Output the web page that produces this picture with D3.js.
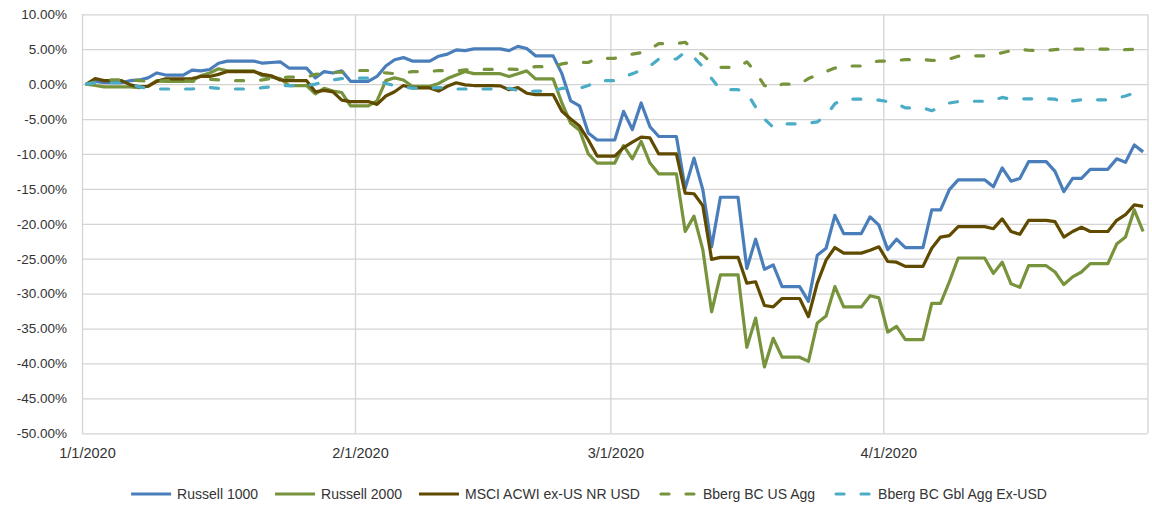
<!DOCTYPE html>
<html><head><meta charset="utf-8">
<script src="https://cdn.jsdelivr.net/npm/d3@7"></script>
<style>
body{margin:0;background:#fff}
text{font-family:"Liberation Sans",Arial,sans-serif;fill:#333}
</style>
</head><body>
<svg id="c" width="1152" height="507"></svg>
<script>
// ---------- DATA ----------
const startDate = "2020-01-01";
const endDate = "2020-05-01";
const xTickDates = ["2020-01-01","2020-02-01","2020-03-01","2020-04-01","2020-05-01"];
const xTickLabels = ["1/1/2020","2/1/2020","3/1/2020","4/1/2020",""];
const yTicks = [10,5,0,-5,-10,-15,-20,-25,-30,-35,-40,-45,-50];
const seriesNames = ["Russell 1000","Russell 2000","MSCI ACWI ex-US NR USD","Bberg BC US Agg","Bberg BC Gbl Agg Ex-USD"];

// daily cumulative returns (%) from 1/1/2020 to 4/30/2020
const russell1000 = [0,0.4,0.2,0.2,0.2,0.5,0.6,0.9,1.6,1.3,1.3,1.3,2.0,1.9,2.1,3.0,3.3,3.3,3.3,3.3,3.0,3.1,3.2,2.3,2.3,2.3,0.9,1.8,1.6,1.9,
  0.4,0.4,0.4,1.1,2.6,3.5,3.8,3.3,3.3,3.3,4.0,4.3,4.9,4.8,5.05,5.05,5.05,5.05,4.8,5.4,5.1,4.05,4.05,4.05,1.5,-2.4,-3.1,-7.0,-8.0,-8.0,
  -8.0,-3.9,-6.5,-2.7,-6.1,-7.5,-7.5,-7.5,-14.9,-10.6,-15.1,-23.3,-16.2,-16.2,-16.2,-26.4,-22.2,-26.5,-25.9,-29.0,-29.0,-29.0,-31.1,-24.5,-23.5,-18.8,-21.4,-21.4,-21.4,-19.0,
  -20.2,-23.7,-22.2,-23.4,-23.4,-23.4,-18.0,-18.0,-15.1,-13.7,-13.7,-13.7,-13.7,-14.7,-12.0,-13.9,-13.5,-11.1,-11.1,-11.1,-12.5,-15.4,-13.5,-13.5,-12.2,-12.2,-12.2,-10.7,-11.2,-8.7,
  -9.7];
const russell2000 = [0,-0.2,-0.4,-0.4,-0.4,-0.4,-0.5,-0.3,0.5,0.4,0.4,0.4,0.5,1.2,1.6,2.2,1.9,1.9,1.9,1.9,1.2,1.0,0.8,-0.2,-0.2,-0.2,-1.4,-0.6,-1.0,-1.2,
  -3.1,-3.1,-3.1,-2.4,0.5,0.9,0.6,-0.3,-0.3,-0.3,0.1,0.8,1.3,1.8,1.5,1.5,1.5,1.5,1.1,1.5,1.9,0.75,0.75,0.75,-2.7,-5.6,-6.6,-10.0,-11.3,-11.3,
  -11.3,-8.8,-10.7,-8.2,-11.3,-12.85,-12.85,-12.85,-21.1,-18.9,-23.7,-32.6,-27.3,-27.3,-27.3,-37.7,-33.5,-40.5,-36.4,-39.1,-39.1,-39.1,-39.7,-34.2,-33.2,-29.0,-31.9,-31.9,-31.9,-30.3,
  -30.6,-35.5,-34.7,-36.6,-36.6,-36.6,-31.4,-31.4,-28.3,-24.9,-24.9,-24.9,-24.9,-27.1,-25.5,-28.6,-29.1,-26.0,-26.0,-26.0,-26.9,-28.7,-27.6,-26.9,-25.7,-25.7,-25.7,-22.9,-21.9,-18.0,
  -21.1];
const msciAcwiExUs = [0,0.8,0.5,0.5,0.5,-0.1,-0.4,-0.3,0.4,0.75,0.75,0.75,0.8,1.1,1.1,1.4,1.8,1.8,1.8,1.8,1.4,1.2,0.6,0.5,0.5,0.5,-1.1,-0.9,-1.1,-2.3,
  -2.5,-2.5,-2.5,-2.9,-1.7,-1.1,-0.2,-0.55,-0.55,-0.55,-1.0,-0.3,0.2,-0.1,-0.2,-0.2,-0.2,-0.25,-0.8,-0.5,-1.3,-1.5,-1.5,-1.5,-3.9,-5.0,-6.0,-8.0,-10.3,-10.3,
  -10.3,-9.1,-8.3,-7.6,-7.7,-10.0,-10.0,-10.0,-15.6,-15.7,-17.4,-25.1,-24.8,-24.8,-24.8,-28.5,-28.3,-31.7,-31.9,-30.7,-30.7,-30.7,-33.3,-28.5,-25.2,-23.4,-24.2,-24.2,-24.2,-23.8,
  -23.3,-25.4,-25.5,-26.1,-26.1,-26.1,-23.5,-21.9,-21.7,-20.4,-20.4,-20.4,-20.4,-20.7,-19.3,-21.1,-21.5,-19.5,-19.5,-19.5,-19.7,-21.9,-21.1,-20.5,-21.1,-21.1,-21.1,-19.5,-18.7,-17.3,
  -17.5];
const usAgg = [0,0.3,0.6,0.6,0.6,0.6,0.5,0.4,0.4,0.5,0.5,0.5,0.4,0.6,0.7,0.6,0.5,0.5,0.5,0.5,0.6,0.8,0.9,1.0,1.0,1.0,1.4,1.5,1.7,1.7,
  1.95,1.95,1.95,1.8,1.6,1.5,1.6,1.8,1.8,1.8,1.95,1.9,1.9,2.05,2.1,2.1,2.1,2.1,2.15,2.1,2.3,2.5,2.5,2.5,2.9,3.1,3.15,3.1,3.7,3.7,
  3.7,4.0,4.3,4.5,5.0,5.8,5.8,5.8,6.0,4.9,4.2,3.0,2.4,2.4,2.4,3.2,1.7,-0.2,-0.6,0.0,0.0,0.0,0.8,1.3,1.8,2.3,2.6,2.6,2.6,3.1,
  3.3,3.3,3.4,3.5,3.5,3.5,3.4,3.4,3.6,4.0,4.05,4.05,4.05,4.2,4.5,4.8,5.0,4.85,4.8,4.8,4.95,5.0,5.0,5.0,5.0,5.0,5.0,4.7,4.95,5.0,
  5.0];
const gblAggExUsd = [0,0.2,0.2,0.2,0.2,0.0,-0.4,-0.6,-0.7,-0.7,-0.7,-0.7,-0.7,-0.5,-0.5,-0.6,-0.7,-0.7,-0.7,-0.7,-0.5,-0.4,-0.2,-0.2,-0.2,-0.2,0.0,0.3,0.6,0.8,
  0.85,0.85,0.85,0.6,0.1,-0.2,-0.4,-0.57,-0.57,-0.57,-0.5,-0.5,-0.7,-0.7,-0.7,-0.7,-0.7,-0.7,-0.6,-0.9,-1.1,-1.0,-1.0,-1.0,-0.6,-0.5,-0.6,-0.2,0.5,0.5,
  0.5,1.0,1.5,2.0,2.6,3.6,3.6,3.6,4.6,3.8,2.5,0.8,-0.8,-0.8,-0.8,-1.2,-3.3,-5.0,-6.2,-5.7,-5.7,-5.7,-5.6,-5.4,-4.5,-2.8,-2.15,-2.15,-2.15,-2.2,
  -2.3,-2.5,-2.8,-3.4,-3.4,-3.4,-3.8,-3.3,-2.7,-2.5,-2.45,-2.45,-2.45,-2.3,-1.9,-2.15,-2.1,-2.1,-2.1,-2.1,-2.15,-2.7,-2.4,-2.25,-2.25,-2.25,-2.25,-2.0,-1.7,-1.3,
  -1.0];

const seriesValues = [russell1000, russell2000, msciAcwiExUs, usAgg, gblAggExUsd];
const seriesColors = ["#4A7EBB","#77933C","#604A00","#77933C","#4BACC6"];
const seriesDashed = [false,false,false,true,true];

// ---------- CHART ----------
const svg = d3.select("#c");
const L = 82, R = 1147.5, T = 14.3, B = 433.3;
const parse = d3.utcParse("%Y-%m-%d");
const t0 = parse(startDate);
const x = d3.scaleUtc().domain([t0, parse(endDate)]).range([L, R]);
const y = d3.scaleLinear().domain([-50, 10]).range([B, T]);
const dates = russell1000.map((_, i) => d3.utcHour.offset(d3.utcDay.offset(t0, i), 12));

// y axis + horizontal gridlines
const gy = svg.append("g").attr("transform", `translate(${L},0)`)
  .call(d3.axisLeft(y).tickValues(yTicks).tickSize(-(R - L)).tickPadding(15)
    .tickFormat(d => d.toFixed(2) + "%"));
gy.select(".domain").remove();
gy.selectAll(".tick line").attr("stroke", "#d4d4d4").attr("stroke-width", 1.3);
gy.selectAll(".tick text").attr("font-size", "13.5px").style("fill", "#333");

// x axis + vertical gridlines
const xt = xTickDates.map(parse);
const gx = svg.append("g").attr("transform", `translate(0,${B})`)
  .call(d3.axisBottom(x).tickValues(xt).tickSize(-(B - T)).tickPadding(14)
    .tickFormat((d, i) => xTickLabels[i]));
gx.select(".domain").remove();
gx.selectAll(".tick line").attr("stroke", "#d4d4d4").attr("stroke-width", 1.3);
gx.selectAll(".tick text").attr("font-size", "14.5px").attr("dx", 5).style("fill", "#333");

// lines
const line = d3.line().x((d, i) => x(dates[i])).y(d => y(d));
seriesValues.forEach((vals, k) => {
  svg.append("path").datum(vals)
    .attr("d", line)
    .attr("fill", "none")
    .attr("stroke", seriesColors[k])
    .attr("stroke-width", 3.2)
    .attr("stroke-linejoin", "round")
    .attr("stroke-linecap", seriesDashed[k] ? "round" : "butt")
    .attr("stroke-dasharray", seriesDashed[k] ? "8,17" : null);
});

// legend
const lg = svg.append("g");
let cx = 0;
seriesNames.forEach((name, k) => {
  const g = lg.append("g").attr("transform", `translate(${cx},0)`);
  g.append("line").attr("x1", 0).attr("x2", 40).attr("y1", 0).attr("y2", 0)
    .attr("stroke", seriesColors[k]).attr("stroke-width", 3.2)
    .attr("stroke-linecap", seriesDashed[k] ? "round" : "butt")
    .attr("stroke-dasharray", seriesDashed[k] ? "8,17" : null)
    .attr("transform", seriesDashed[k] ? "translate(4,0)" : null);
  const t = g.append("text").attr("x", 46).attr("y", 0).attr("dy", "0.35em")
    .attr("font-size", "14px").text(name);
  const w = t.node().getComputedTextLength();
  cx += 46 + w + 17;
});
const totalW = cx - 17;
lg.attr("transform", `translate(${589 - totalW / 2},494)`);
</script>
</body></html>
